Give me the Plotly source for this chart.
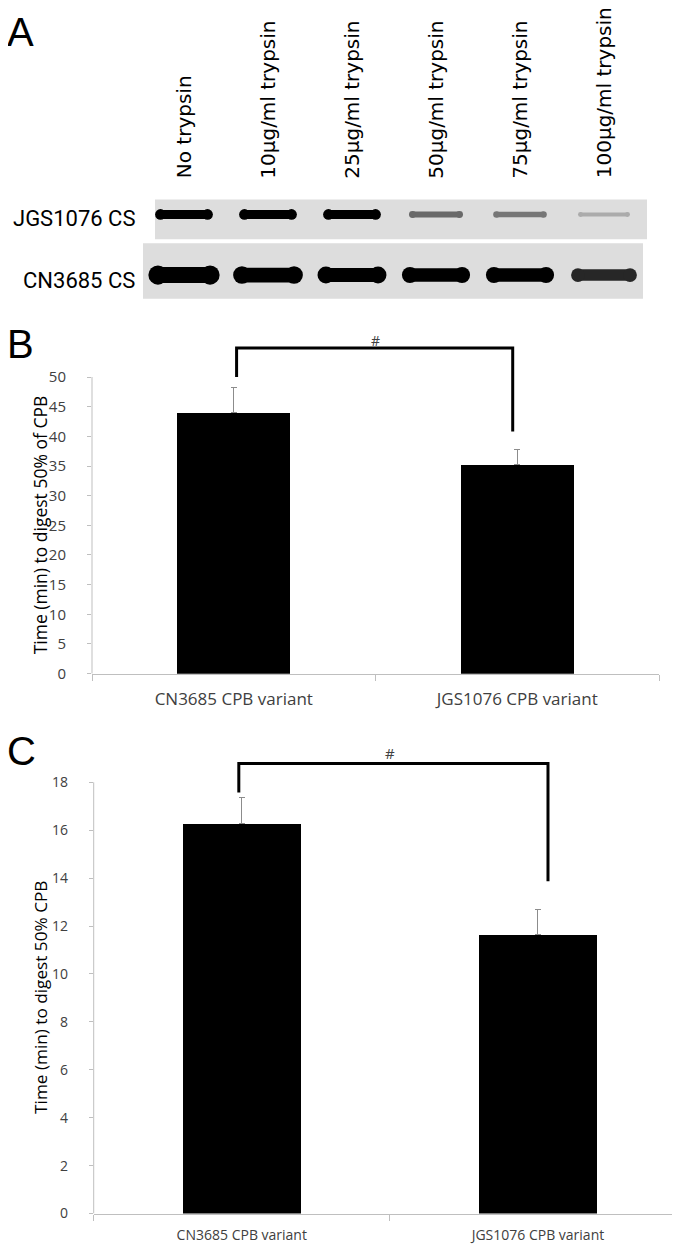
import plotly.graph_objects as go

# ---------------- data ----------------
lane_labels = ["No trypsin", "10µg/ml trypsin", "25µg/ml trypsin",
               "50µg/ml trypsin", "75µg/ml trypsin", "100µg/ml trypsin"]
blot_rows = ["JGS1076 CS", "CN3685 CS"]
# relative band signal read from the blot (0 = none, 1 = saturated)
jgs_signal = [0.85, 0.85, 0.85, 0.40, 0.35, 0.15]
cn_signal = [1.00, 0.90, 0.85, 0.80, 0.80, 0.65]

categories = ["CN3685 CPB variant", "JGS1076 CPB variant"]
b_values = [44.0, 35.2]
b_errors = [4.3, 2.6]
b_ticks = [0, 5, 10, 15, 20, 25, 30, 35, 40, 45, 50]
b_bracket = [50.0, 54.9, 54.9, 40.8]

c_values = [16.28, 11.63]
c_errors = [1.08, 1.05]
c_ticks = [0, 2, 4, 6, 8, 10, 12, 14, 16, 18]
c_bracket = [17.57, 18.79, 18.79, 13.87]

# ---------------- layout helpers ----------------
W, H = 680, 1244
def px_x(p):
    return p / W
def px_y(p):
    return (H - p) / H

AX = "#bfbfbf"
TXT = "#404040"
FONT = "Open Sans, Noto Sans, DejaVu Sans, sans-serif"

fig = go.Figure()

# ---------------- panel A: blot ----------------
lanes = list(range(len(lane_labels)))

def band_color(s):
    lvl = int(round(210 * (1 - min(1.0, s / 0.8))))
    return f"rgb({lvl},{lvl},{lvl})"

for row_y, sig, tmin, tgain, half in [(1, jgs_signal, 3, 7, 0.28),
                                       (0, cn_signal, 3, 13, 0.31)]:
    for lane, s in zip(lanes, sig):
        w = tmin + tgain * s
        col = band_color(s)
        fig.add_trace(go.Scatter(
            x=[lane - half, lane + half], y=[row_y, row_y],
            mode="lines+markers",
            line=dict(color=col, width=w),
            marker=dict(color=col, size=w * 1.2, symbol="circle", line=dict(width=0)),
            xaxis="x3", yaxis="y3", hoverinfo="skip", showlegend=False))

# strips (gel background)
strip_shapes = [
    dict(type="rect", xref="x3", yref="y3", x0=-0.345, x1=5.512, y0=0.590, y1=1.246,
         fillcolor="#dddddd", line=dict(width=0), layer="below"),
    dict(type="rect", xref="x3", yref="y3", x0=-0.488, x1=5.464, y0=-0.393, y1=0.525,
         fillcolor="#dddddd", line=dict(width=0), layer="below"),
]

annotations = []
for lane, lab in zip(lanes, lane_labels):
    annotations.append(dict(
        x=lane, xref="x3", y=px_y(174), yref="paper", text=lab, textangle=-90,
        xanchor="center", yanchor="bottom", showarrow=False,
        font=dict(family="DejaVu Sans", size=20, color="black")))
for row_y, lab in zip([1, 0], blot_rows):
    annotations.append(dict(
        x=px_x(129), xref="paper", y=row_y, yref="y3", text=lab,
        xanchor="right", yanchor="middle", showarrow=False, yshift=-4 if row_y == 1 else -5,
        font=dict(family="Roboto, Liberation Sans, sans-serif", size=22, color="black")))

# ---------------- panel B ----------------
xpos = list(range(len(categories)))
fig.add_trace(go.Bar(
    x=xpos, y=b_values, width=0.4, marker=dict(color="black", line=dict(width=0)),
    error_y=dict(type="data", symmetric=False, array=b_errors, arrayminus=[0] * len(b_errors),
                 color="#8c8c8c", thickness=1, width=3),
    xaxis="x", yaxis="y", hoverinfo="skip", showlegend=False))
fig.add_trace(go.Scatter(
    x=[xpos[0] + 0.01, xpos[0] + 0.01, xpos[1] - 0.016, xpos[1] - 0.016], y=b_bracket,
    mode="lines", line=dict(color="black", width=3), xaxis="x", yaxis="y",
    hoverinfo="skip", showlegend=False))
annotations.append(dict(x=0.5, xref="x", y=56.2, yref="y", text="#", showarrow=False,
                        font=dict(family=FONT, size=14, color=TXT)))

# ---------------- panel C ----------------
fig.add_trace(go.Bar(
    x=xpos, y=c_values, width=0.4, marker=dict(color="black", line=dict(width=0)),
    error_y=dict(type="data", symmetric=False, array=c_errors, arrayminus=[0] * len(c_errors),
                 color="#8c8c8c", thickness=1, width=3),
    xaxis="x2", yaxis="y2", hoverinfo="skip", showlegend=False))
fig.add_trace(go.Scatter(
    x=[xpos[0] - 0.01, xpos[0] - 0.01, xpos[1] + 0.034, xpos[1] + 0.034], y=c_bracket,
    mode="lines", line=dict(color="black", width=3), xaxis="x2", yaxis="y2",
    hoverinfo="skip", showlegend=False))
annotations.append(dict(x=0.5, xref="x2", y=19.23, yref="y2", text="#", showarrow=False,
                        font=dict(family=FONT, size=15, color=TXT)))

# axis titles (centred on the drawn axis line)
annotations.append(dict(x=px_x(32), xref="paper", y=b_ticks[-1] / 2, yref="y",
                        xanchor="center", yanchor="middle",
                        text="Time (min) to digest 50% of CPB", textangle=-90, showarrow=False,
                        font=dict(family=FONT, size=17.5, color="black")))
annotations.append(dict(x=px_x(33), xref="paper", y=c_ticks[-1] / 2, yref="y2",
                        xanchor="center", yanchor="middle",
                        text="Time (min) to digest 50% CPB", textangle=-90, showarrow=False,
                        font=dict(family=FONT, size=17.2, color="black")))

# panel letters
annotations.append(dict(x=0, xref="paper", y=1, yref="paper", text="A",
                        xanchor="left", yanchor="top", showarrow=False, xshift=-3, yshift=0,
                        font=dict(family="Liberation Sans, Arial, sans-serif", size=40, color="black")))
for letter, yc in [("B", 343), ("C", 753)]:
    annotations.append(dict(x=0, xref="paper", y=px_y(yc), yref="paper", text=letter,
                            xanchor="left", yanchor="middle", showarrow=False, xshift=-3, yshift=5,
                            font=dict(family="Liberation Sans, Arial, sans-serif", size=40, color="black")))

axis_line_shapes = [
    dict(type="line", xref="x domain", yref="y", x0=0, x1=0, y0=0, y1=b_ticks[-1],
         line=dict(color=AX, width=1)),
    dict(type="line", xref="x2 domain", yref="y2", x0=0, x1=0, y0=0, y1=c_ticks[-1],
         line=dict(color=AX, width=1)),
]

# pixel geometry
b_zero, b_ppu, b_top = 670.5, 5.976, 60.0
c_zero, c_ppu, c_top = 1214.3, 24.13, 19.6

def xaxis_cfg(d0, d1, size, standoff):
    return dict(domain=[px_x(d0), px_x(d1)], range=[-0.5, len(categories) - 0.5],
                tickmode="array", tickvals=xpos, ticktext=categories, ticks="", ticklen=0,
                showline=True, linecolor=AX, linewidth=1, showgrid=False, zeroline=False,
                minor=dict(tickmode="array", tickvals=[p - 0.5 for p in xpos] + [xpos[-1] + 0.5],
                           ticks="outside", ticklen=6, tickcolor=AX, tickwidth=1, showgrid=False),
                tickfont=dict(family=FONT, size=size, color=TXT), ticklabelstandoff=standoff,
                fixedrange=True)

def yaxis_cfg(zero, ppu, top, ticks, size, anchor):
    return dict(domain=[px_y(zero), px_y(zero - top * ppu)], range=[0, top],
                tickmode="array", tickvals=ticks, ticks="outside", ticklen=4, tickcolor=AX,
                tickwidth=1, showline=False, showgrid=False, zeroline=False,
                tickfont=dict(family=FONT, size=size, color=TXT), ticklabelstandoff=18,
                anchor=anchor, fixedrange=True)

fig.update_layout(
    width=W, height=H, margin=dict(l=0, r=0, t=0, b=0),
    paper_bgcolor="white", plot_bgcolor="white", showlegend=False,
    xaxis=dict(xaxis_cfg(84, 651, 17, 10), anchor="y"),
    yaxis=yaxis_cfg(b_zero, b_ppu, b_top, b_ticks, 15, "x"),
    xaxis2=dict(xaxis_cfg(85.7, 678, 14, 9), anchor="y2"),
    yaxis2=yaxis_cfg(c_zero, c_ppu, c_top, c_ticks, 14, "x2"),
    xaxis3=dict(domain=[px_x(130), px_x(645)], range=[(130 - 176) / 84, (645 - 176) / 84],
                visible=False, anchor="y3", fixedrange=True),
    yaxis3=dict(domain=[px_y(300), px_y(185)], range=[-(300 - 269) / 61, 1 + (208 - 185) / 61],
                visible=False, anchor="x3", fixedrange=True),
    shapes=strip_shapes + axis_line_shapes,
    annotations=annotations,
    bargap=0,
)

fig.write_html("out.html")
